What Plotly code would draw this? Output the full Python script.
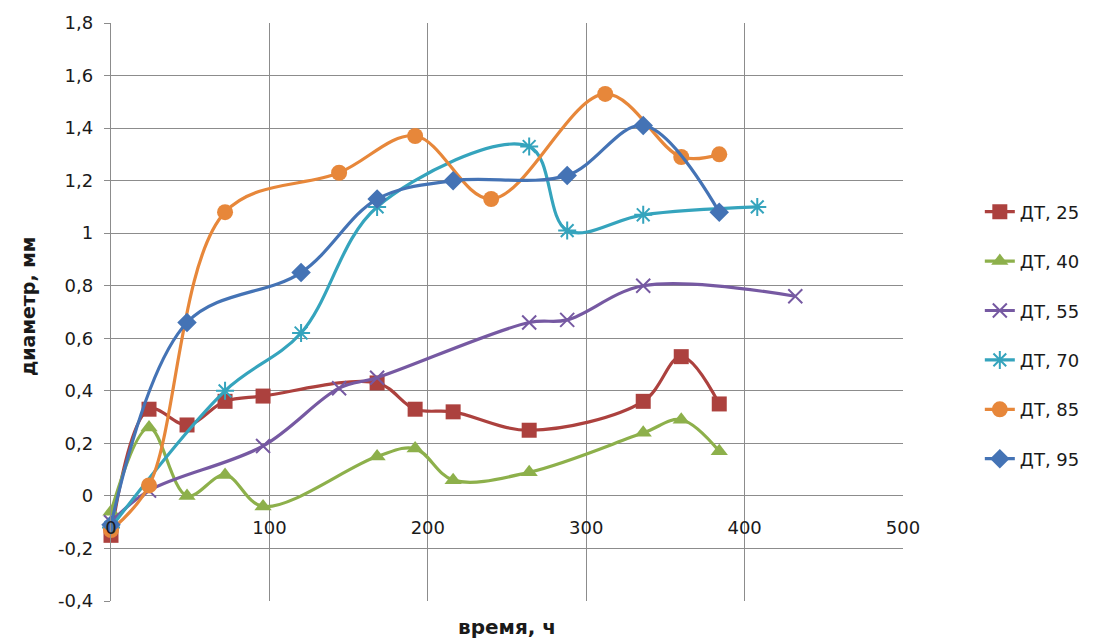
import plotly.graph_objects as go

# Measurements: diameter (mm) versus time (h) for each ДТ series
t_25 = [0, 24, 48, 72, 96, 168, 192, 216, 264, 336, 360, 384]
d_25 = [-0.15, 0.33, 0.27, 0.36, 0.38, 0.43, 0.33, 0.32, 0.25, 0.36, 0.53, 0.35]

t_40 = [0, 24, 48, 72, 96, 168, 192, 216, 264, 336, 360, 384]
d_40 = [-0.06, 0.26, 0.0, 0.08, -0.04, 0.15, 0.18, 0.06, 0.09, 0.24, 0.29, 0.17]

t_55 = [0, 24, 96, 144, 168, 264, 288, 336, 432]
d_55 = [-0.1, 0.02, 0.19, 0.41, 0.45, 0.66, 0.67, 0.80, 0.76]

t_70 = [0, 72, 120, 168, 264, 288, 336, 408]
d_70 = [-0.12, 0.40, 0.62, 1.10, 1.33, 1.01, 1.07, 1.10]

t_85 = [0, 24, 72, 144, 192, 240, 312, 360, 384]
d_85 = [-0.13, 0.04, 1.08, 1.23, 1.37, 1.13, 1.53, 1.29, 1.30]

t_95 = [0, 48, 120, 168, 216, 288, 336, 384]
d_95 = [-0.11, 0.66, 0.85, 1.13, 1.20, 1.22, 1.41, 1.08]

series_names = ["ДТ, 25", "ДТ, 40", "ДТ, 55", "ДТ, 70", "ДТ, 85", "ДТ, 95"]

y_tick_vals = [-0.4, -0.2, 0, 0.2, 0.4, 0.6, 0.8, 1, 1.2, 1.4, 1.6, 1.8]
y_tick_text = ["-0,4", "-0,2", "0", "0,2", "0,4", "0,6", "0,8", "1", "1,2", "1,4", "1,6", "1,8"]
x_tick_vals = [0, 100, 200, 300, 400, 500]
x_tick_text = ["0", "100", "200", "300", "400", "500"]

styles = [
    dict(color="#AC413E", symbol="square", size=15, lw=0),
    dict(color="#8DB04B", symbol="triangle-up", size=15, lw=0),
    dict(color="#7659A2", symbol="x-thin-open", size=14, lw=2),
    dict(color="#35A4BD", symbol="asterisk-open", size=15, lw=2),
    dict(color="#E7873A", symbol="circle", size=16, lw=0),
    dict(color="#4473B5", symbol="diamond", size=15, lw=0),
]

data = [(t_25, d_25), (t_40, d_40), (t_55, d_55), (t_70, d_70), (t_85, d_85), (t_95, d_95)]

fig = go.Figure()
for i, ((tx, dy), name, st) in enumerate(zip(data, series_names, styles)):
    fig.add_trace(go.Scatter(
        x=tx, y=dy, name=name, mode="lines+markers",
        legendgroup=f"g{i}",
        line=dict(color=st["color"], width=3.2, shape="spline", smoothing=1.0),
        marker=dict(symbol=st["symbol"], size=st["size"], color=st["color"],
                    line=dict(color=st["color"], width=st["lw"])),
        cliponaxis=False,
    ))

grid = "#8C8C8C"
tick_font = dict(family="DejaVu Sans", size=18, color="#1A1A1A")

fig.update_layout(
    width=1106, height=642,
    margin=dict(l=111, r=203, t=23, b=41),
    paper_bgcolor="white", plot_bgcolor="white",
    separators=", ",
    showlegend=True,
    legend=dict(
        x=1.097, xanchor="left", y=0.705, yanchor="top",
        traceorder="grouped", tracegroupgap=23,
        font=dict(family="DejaVu Sans", size=18, color="#1A1A1A"),
        bgcolor="rgba(0,0,0,0)",
    ),
    xaxis=dict(
        range=[0, 500], tickvals=x_tick_vals, ticktext=x_tick_text,
        anchor="free", position=0.4 / 2.2,
        showgrid=True, gridcolor=grid, gridwidth=1.4,
        zeroline=False, showline=False,
        ticks="", ticklabelstandoff=19,
        tickfont=tick_font,
    ),
    yaxis=dict(
        range=[-0.4, 1.8], tickvals=y_tick_vals, ticktext=y_tick_text,
        showgrid=True, gridcolor=grid, gridwidth=1.4,
        zeroline=False, showline=True, linecolor=grid, linewidth=1.4,
        ticks="outside", ticklen=6, tickcolor=grid, tickwidth=1.4,
        ticklabelstandoff=7,
        tickfont=tick_font,
    ),
    annotations=[
        dict(text="<b>время, ч</b>", xref="paper", yref="paper", x=0.5, y=-0.045,
             xanchor="center", yanchor="middle", showarrow=False,
             font=dict(family="DejaVu Sans", size=20, color="#1A1A1A")),
        dict(text="<b>диаметр, мм</b>", xref="paper", yref="paper", x=-0.105, y=0.51,
             xanchor="center", yanchor="middle", showarrow=False, textangle=-90,
             font=dict(family="DejaVu Sans", size=19, color="#1A1A1A")),
    ],
)

fig.write_html("out.html")
